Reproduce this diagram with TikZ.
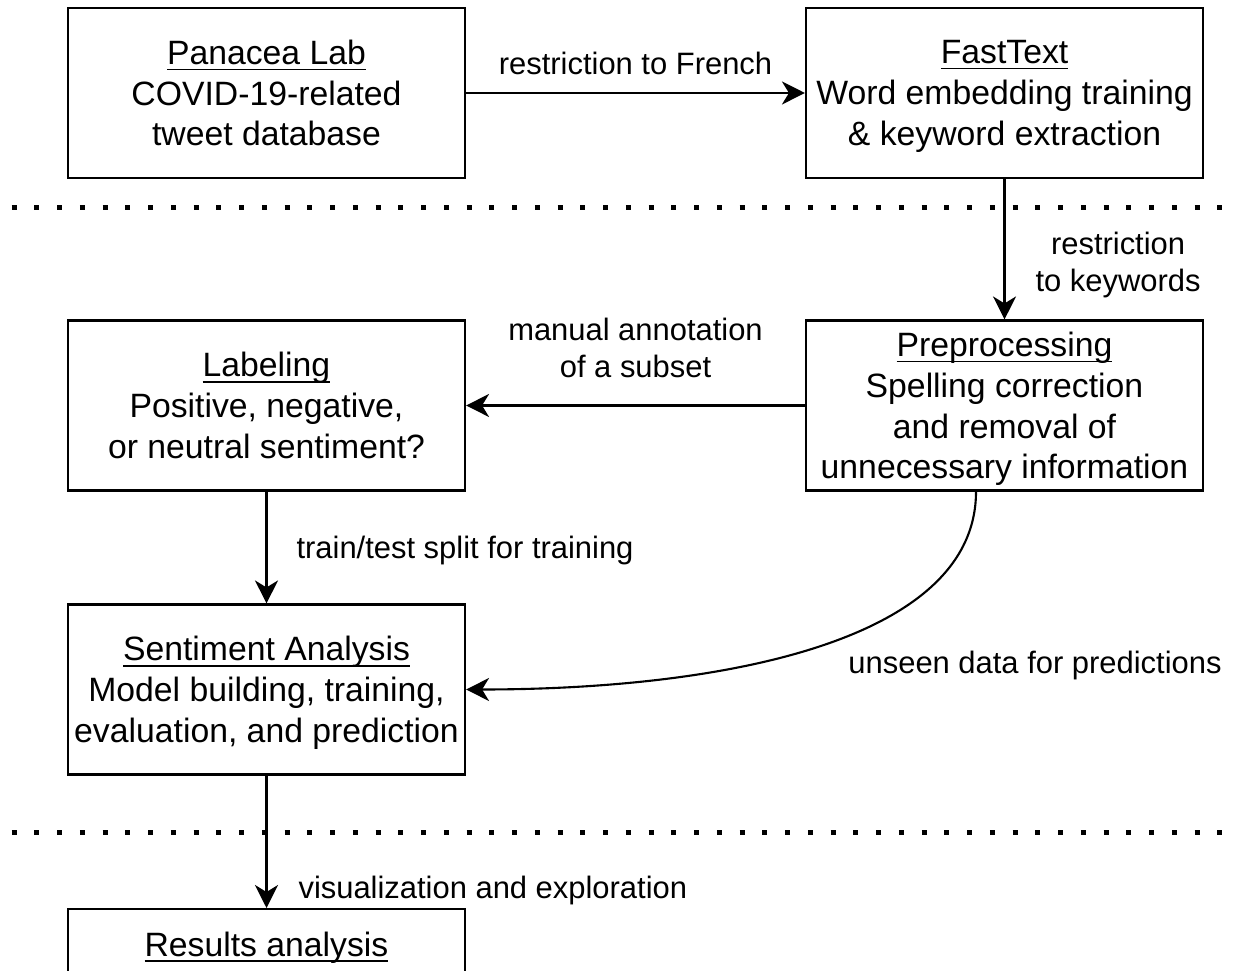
\documentclass[tikz,border=0pt]{standalone}
\usepackage{fontspec}
\setmainfont{Liberation Sans}
\usetikzlibrary{arrows.meta, positioning}

% underlined title line, rule kept at a fixed height below the baseline
\newcommand{\ttl}[1]{\setbox0\hbox{#1}\dp0=0pt\underline{\box0}}

\tikzset{
  stage/.style={draw, line width=0.6pt, minimum width=3.97cm, minimum height=1.70cm,
    inner sep=0pt, align=center, text depth=0pt, font=\fontsize{9.6}{11.6}\selectfont},
  flow/.style={-{Stealth[length=0.23cm, width=0.23cm, inset=0.07cm]}, line width=0.6pt},
  lbl/.style={inner sep=0pt, align=center, font=\fontsize{8.8}{10.5}\selectfont},
  sep/.style={line width=0.05cm, dash pattern=on 0.05cm off 0.1775cm}
}

\begin{document}
\begin{tikzpicture}
\path[use as bounding box] (0,0) rectangle (12.39,-9.71);
\clip (0,0) rectangle (12.39,-9.71);

% phase separators
\draw[sep] (0.115,-2.075) -- (12.39,-2.075);
\draw[sep] (0.115,-8.32) -- (12.39,-8.32);

% pipeline stages
\node[stage] (pan) at (2.665,-0.93) {\ttl{Panacea Lab}\\COVID-19-related\\tweet database};
\node[stage] (fast) at (10.045,-0.93) {\ttl{FastText}\\Word embedding training\\\& keyword extraction};
\node[stage] (lab) at (2.665,-4.055) {\ttl{Labeling}\\Positive, negative,\\or neutral sentiment?};
\node[stage] (pre) at (10.045,-4.055) {\ttl{Preprocessing}\\Spelling correction\\and removal of\\unnecessary information};
\node[stage] (sent) at (2.665,-6.895) {\ttl{Sentiment Analysis}\\Model building, training,\\evaluation, and prediction};
\node[stage, anchor=north, text height=0.47cm, text depth=1.23cm] (res) at (2.665,-9.08) {\ttl{Results analysis}};

% data flow
\draw[flow] (pan) -- node[lbl, above=0.17cm] {restriction to French} (fast);
\draw[flow] (fast) -- node[lbl, right=0.3cm, yshift=-0.16cm] {restriction\\to keywords} (pre);
\draw[flow] (pre) -- node[lbl, above=0.27cm] {manual annotation\\of a subset} (lab);
\draw[flow] (lab) -- node[lbl, right=0.29cm, yshift=-0.03cm] {train/test split for training} (sent);
\draw[flow] ([xshift=-0.285cm]pre.south) .. controls +(0,-1.5) and +(2.55,0) .. (sent.east);
\node[lbl] (unseen) at (10.35,-6.66) {unseen data for predictions};
\draw[flow] (sent) -- node[lbl, right=0.31cm, yshift=-0.49cm] {visualization and exploration} (res);
\end{tikzpicture}
\end{document}
